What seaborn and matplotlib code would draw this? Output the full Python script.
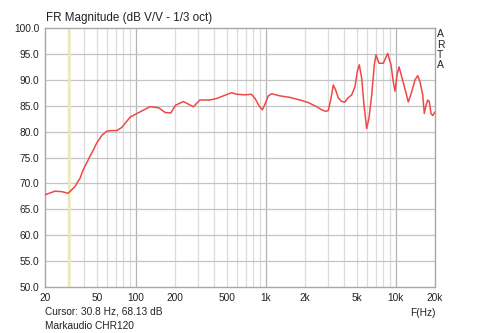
import numpy as np
import pandas as pd
import seaborn as sns
from matplotlib import pyplot as plt
from matplotlib.ticker import FixedLocator, FixedFormatter, NullLocator

# values
freq_hz = [20, 23.9, 27, 30.2, 34, 37.2, 39.3, 44.3, 47, 50, 54.9, 59.9, 65.2, 71.3,
           77.9, 82.7, 90.4, 107.6, 128.5, 149.6, 167.6, 185.7, 202, 232, 277, 311,
           371, 420, 471, 545, 600, 688, 774, 825, 890, 939, 985, 1044, 1109, 1284,
           1534, 1830, 2120, 2460, 2690, 2900, 3022, 3170, 3302, 3446, 3608, 3832,
           4062, 4230, 4574, 4849, 5050, 5232, 5460, 5686, 5964, 6212, 6520, 6828,
           7036, 7418, 8006, 8654, 9174, 9556, 9850, 10206, 10574, 11090, 11904,
           12466, 13240, 14038, 14724, 15336, 16086, 16548, 16964, 17574, 18082,
           18632, 19202, 20000]
mag_db = [67.8, 68.5, 68.4, 68.1, 69.4, 71.0, 72.6, 75.2, 76.4, 77.8, 79.3, 80.1, 80.2,
          80.2, 80.8, 81.6, 82.8, 83.8, 84.8, 84.6, 83.7, 83.6, 85.1, 85.8, 84.8, 86.1,
          86.1, 86.4, 86.9, 87.5, 87.2, 87.1, 87.2, 86.4, 84.9, 84.2, 85.3, 86.9, 87.3,
          86.9, 86.6, 86.1, 85.6, 84.8, 84.2, 83.9, 84.1, 86.4, 89.0, 88.0, 86.5, 85.8,
          85.7, 86.4, 87.1, 88.7, 91.6, 92.9, 90.3, 85.1, 80.6, 82.6, 87.1, 92.9,
          94.8, 93.2, 93.2, 95.1, 92.9, 89.6, 87.8, 90.9, 92.5, 90.6, 87.7,
          85.7, 87.7, 90.0, 90.8, 89.6, 87.1, 83.5, 84.8, 86.1, 85.8,
          83.5, 83.1, 83.8]

xtick_vals = [20, 50, 100, 200, 500, 1000, 2000, 5000, 10000, 20000]
xtick_labels = ["20", "50", "100", "200", "500", "1k", "2k", "5k", "10k", "20k"]
ytick_vals = list(range(50, 101, 5))
cursor_hz = 30.8

sns.set_style("white")
plt.rcParams['font.family'] = ['Liberation Sans', 'DejaVu Sans']

df = pd.DataFrame({"f": freq_hz, "db": mag_db})

fig = plt.figure(figsize=(4.8, 3.33), dpi=100)
ax = fig.add_axes([45 / 480, 46 / 333, 390 / 480, 259 / 333])
ax.set_xscale("log")
ax.set_xlim(20, 20000)
ax.set_ylim(50, 100)

# vertical grid lines
minor = [m * 10 ** d for d in range(1, 5) for m in range(1, 10)]
for v in minor:
    if 20 < v < 20000:
        col = "#b4b4b4" if v in (100, 1000, 10000) else "#dcdcdc"
        ax.axvline(v, color=col, lw=0.9, zorder=0)
for y in ytick_vals[1:-1]:
    ax.axhline(y, color="#c4c4c4", lw=0.9, zorder=0)

ax.axvline(cursor_hz, color="#eeeeb4", lw=1.8, zorder=1)

sns.lineplot(data=df, x="f", y="db", ax=ax, color="#f04848", lw=1.1, zorder=3)

ax.xaxis.set_major_locator(FixedLocator(xtick_vals))
ax.xaxis.set_major_formatter(FixedFormatter(xtick_labels))
ax.xaxis.set_minor_locator(NullLocator())
ax.set_yticks(ytick_vals)
ax.set_yticklabels([f"{v:.1f}" for v in ytick_vals])
ax.tick_params(axis="both", length=0, labelsize=7.3, colors="#222222", pad=4)
ax.set_xlabel("")
ax.set_ylabel("")
for s in ax.spines.values():
    s.set_color("#a8a8a8")
    s.set_linewidth(1.0)

fig.text(46 / 480, 1 - 18 / 333, "FR Magnitude (dB V/V - 1/3 oct)", fontsize=8.4,
         color="#222222", va="center", ha="left")
for i, ch in enumerate("ARTA"):
    fig.text(437 / 480, 1 - (34 + i * 10.5) / 333, ch, fontsize=7.5,
             color="#222222", va="center", ha="left")
fig.text(45 / 480, 1 - 312 / 333, "Cursor: 30.8 Hz, 68.13 dB", fontsize=7.3,
         color="#222222", va="center", ha="left")
fig.text(45 / 480, 1 - 326 / 333, "Markaudio CHR120", fontsize=7.3,
         color="#222222", va="center", ha="left")
fig.text(423 / 480, 1 - 313 / 333, "F(Hz)", fontsize=7.3,
         color="#222222", va="center", ha="center")

fig.savefig("out.png", dpi=100)
